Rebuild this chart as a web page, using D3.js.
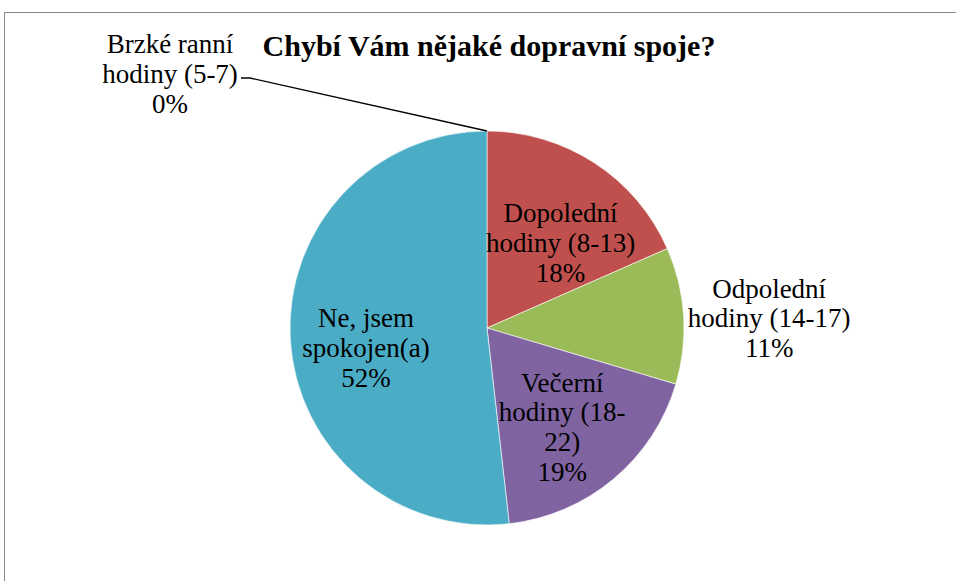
<!DOCTYPE html>
<html>
<head>
<meta charset="utf-8">
<script src="https://cdn.jsdelivr.net/npm/d3@7"></script>
<style>
  body { margin: 0; background: #fff; }
  svg { display: block; }
</style>
</head>
<body>
<div id="chart"></div>
<script>
const categories = [
  "Brzké ranní hodiny (5-7)",
  "Dopolední hodiny (8-13)",
  "Odpolední hodiny (14-17)",
  "Večerní hodiny (18-22)",
  "Ne, jsem spokojen(a)"
];
const values = [0, 18.4, 11.2, 18.6, 51.8];
const labelLines = [
  ["Brzké ranní", "hodiny (5-7)"],
  ["Dopolední", "hodiny (8-13)"],
  ["Odpolední", "hodiny (14-17)"],
  ["Večerní", "hodiny (18-", "22)"],
  ["Ne, jsem", "spokojen(a)"]
];
const colors = ["#4f81bd", "#c0504d", "#9bbb59", "#8064a2", "#4bacc6"];

const width = 956, height = 581;
const cx = 487, cy = 328, R = 197;
const serif = "'Liberation Serif', 'Times New Roman', Times, serif";

const svg = d3.select("#chart").append("svg")
  .attr("width", width)
  .attr("height", height)
  .attr("font-family", serif);

// chart frame (runs off the right and bottom edge)
svg.append("rect")
  .attr("x", 4.5).attr("y", 12.5)
  .attr("width", 1000).attr("height", 1000)
  .attr("fill", "none")
  .attr("stroke", "#898989")
  .attr("stroke-width", 1);

svg.append("text")
  .attr("x", 489).attr("y", 56)
  .attr("text-anchor", "middle")
  .attr("font-size", 30)
  .attr("font-weight", "bold")
  .text("Chybí Vám nějaké dopravní spoje?");

const total = d3.sum(values);
const pie = d3.pie().sort(null).value(d => d);
const arcs = pie(values);
const arc = d3.arc().innerRadius(0).outerRadius(R);

const g = svg.append("g").attr("transform", `translate(${cx},${cy})`);

g.selectAll("path")
  .data(arcs)
  .enter()
  .append("path")
  .attr("d", arc)
  .attr("fill", (d, i) => colors[i])
  .attr("stroke", "#fff")
  .attr("stroke-width", 0.6);

// label placement: radius factor along the slice middle, plus a nudge (px)
const labelPos = [
  { fixed: [-317, -245] },   // callout label for the 0% slice
  { r: 0.6, dx: 9, dy: 23 },
  { r: 1.43, dx: 1, dy: 17 },
  { r: 0.65, dx: -7, dy: 10 },
  { r: 0.62, dx: 1, dy: 22 }
];
const lineH = 29.7;

arcs.forEach((d, i) => {
  const pct = Math.round(d.data / total * 100) + "%";
  const lines = labelLines[i].concat([pct]);
  const p = labelPos[i];
  let x, y;
  if (p.fixed) {
    [x, y] = p.fixed;
  } else {
    const a = (d.startAngle + d.endAngle) / 2;
    x = Math.sin(a) * R * p.r + p.dx;
    y = -Math.cos(a) * R * p.r + p.dy;
  }
  y -= (lines.length - 1) * lineH / 2;
  const t = g.append("text")
    .attr("text-anchor", "middle")
    .attr("font-size", 27)
    .attr("fill", "#000");
  lines.forEach((s, k) => {
    t.append("tspan").attr("x", x).attr("y", y + k * lineH).text(s);
  });
});

// leader line for the 0% slice
const a0 = arcs[0].startAngle;
const edge = [Math.sin(a0) * R, -Math.cos(a0) * R];
g.append("polyline")
  .attr("points", [[241 - cx, 78 - cy], [250 - cx, 78 - cy], edge].map(p => p.join(",")).join(" "))
  .attr("fill", "none")
  .attr("stroke", "#000")
  .attr("stroke-width", 1.3);
</script>
</body>
</html>
